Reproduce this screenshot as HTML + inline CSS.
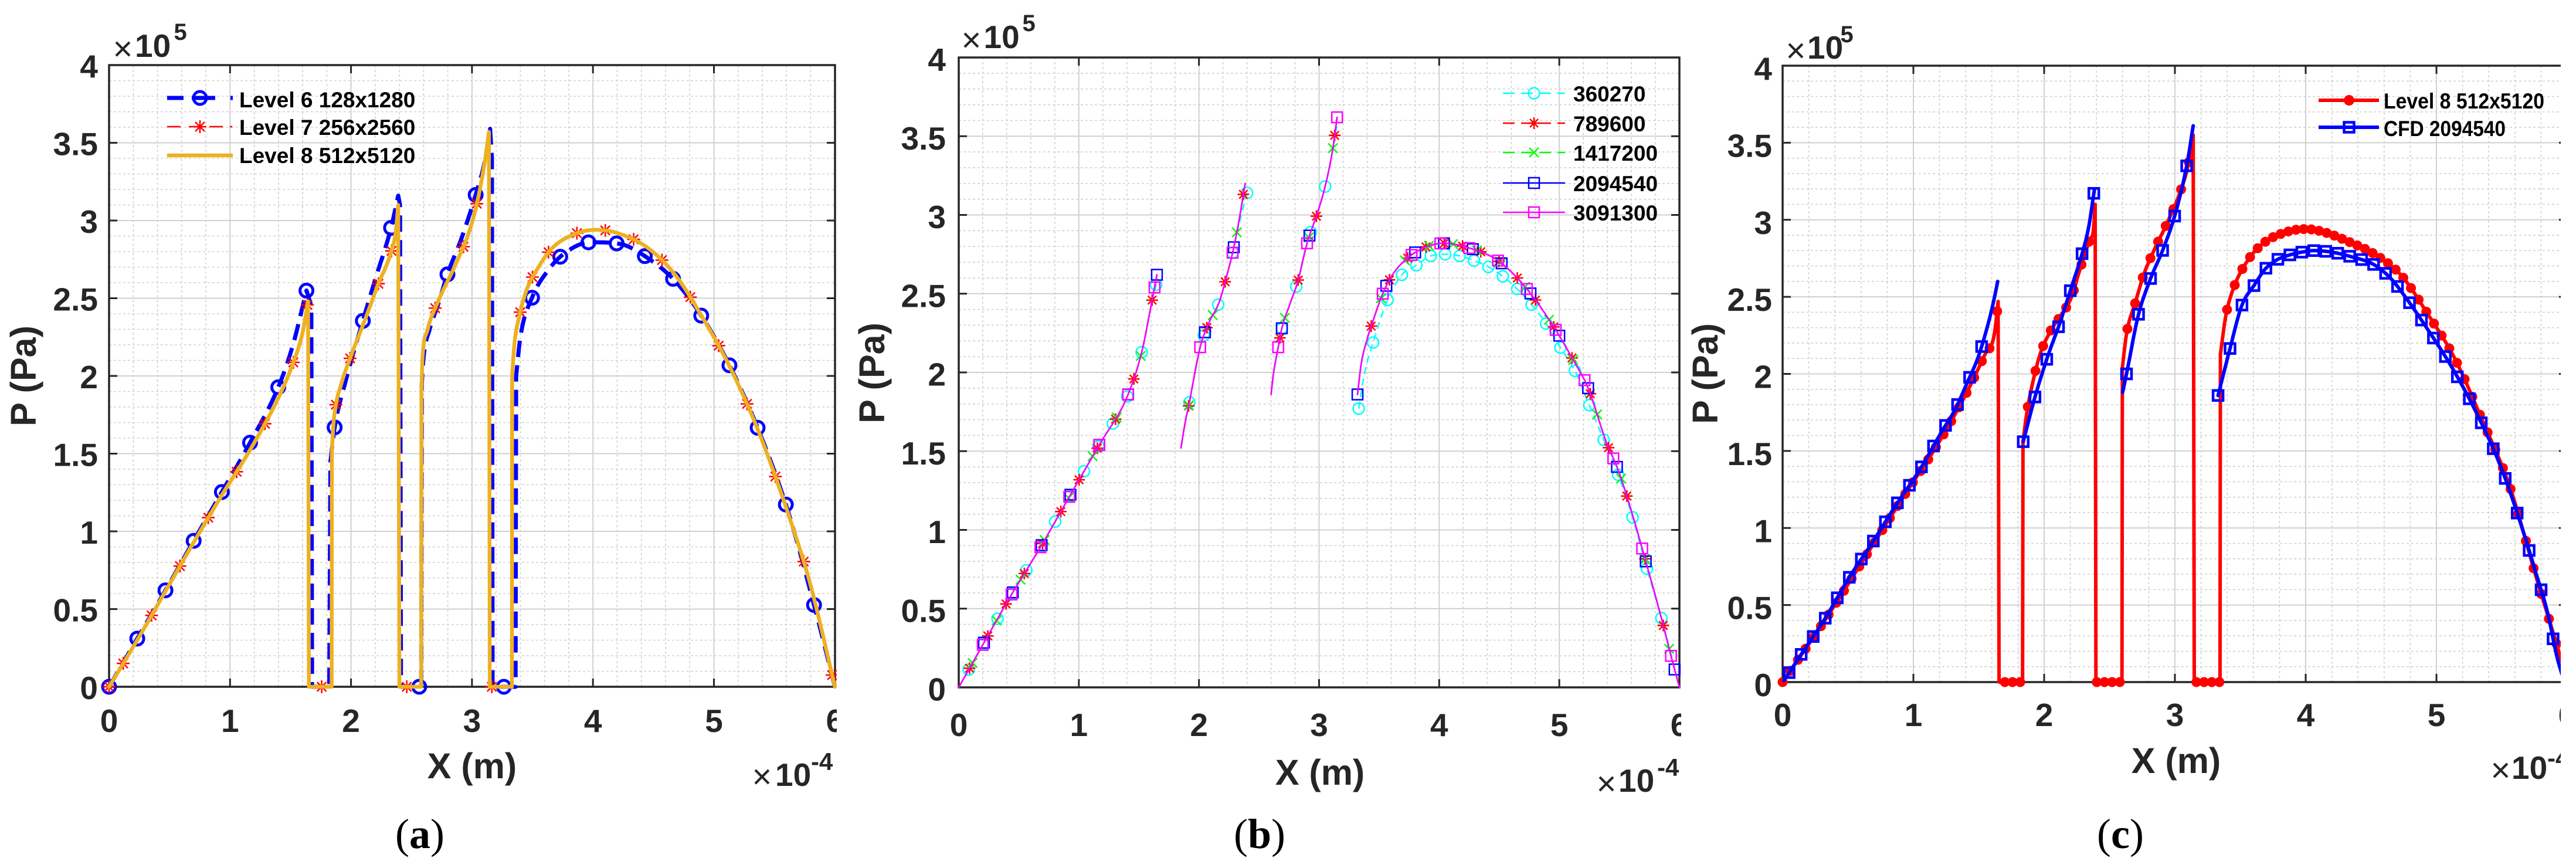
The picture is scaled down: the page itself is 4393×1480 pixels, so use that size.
<!DOCTYPE html>
<html><head><meta charset="utf-8"><title>Pressure distribution plots</title>
<style>
html,body{margin:0;padding:0;background:#fff;width:4393px;height:1480px;overflow:hidden;}
svg{display:block;}
.t{font-family:"Liberation Sans",Arial,Helvetica,sans-serif;font-weight:bold;fill:#262626;}
.tk{font-size:55px;}
.lab{font-size:61px;}
.leg{font-family:"Liberation Sans",Arial,Helvetica,sans-serif;font-weight:bold;font-size:37px;fill:#000;}
.cap{font-family:"Liberation Serif","Times New Roman",serif;font-size:72px;fill:#000;}
.mul{font-family:"Liberation Sans",Arial,Helvetica,sans-serif;font-weight:normal;font-size:58px;fill:#262626;}
.sup{font-size:40px;}
</style></head><body>
<svg id="fig" xmlns="http://www.w3.org/2000/svg" width="4393" height="1480" viewBox="0 0 4393 1480">
<rect width="4393" height="1480" fill="#fff"/>
<g id="ga"></g><g id="gb"></g><g id="gc"></g>

<!-- Legend (a) -->
<line x1="285" y1="167" x2="397" y2="167" stroke="#0000ff" stroke-width="7" stroke-dasharray="28 14 40 26 4"/>
<circle cx="341" cy="167" r="11" fill="none" stroke="#0000ff" stroke-width="5"/>
<line x1="285" y1="216" x2="397" y2="216" stroke="#ff0000" stroke-width="2.5" stroke-dasharray="23 14 23 12 23 12 4"/>
<path d="M330 216L352 216M341 205L341 227M333 208L349 224M333 224L349 208" stroke="#ff0000" stroke-width="2.5" fill="none"/>
<line x1="285" y1="265" x2="397" y2="265" stroke="#EDB120" stroke-width="6.5"/>
<text class="leg" x="408" y="183">Level 6 128x1280</text>
<text class="leg" x="408" y="230">Level 7 256x2560</text>
<text class="leg" x="408" y="278">Level 8 512x5120</text>

<!-- Legend (b) -->
<line x1="2563" y1="159" x2="2669" y2="159" stroke="#00ffff" stroke-width="2.5" stroke-dasharray="20 11"/>
<circle cx="2616" cy="159" r="9.5" fill="none" stroke="#00ffff" stroke-width="2.5"/>
<line x1="2563" y1="210" x2="2669" y2="210" stroke="#ff0000" stroke-width="2.5" stroke-dasharray="20 11"/>
<path d="M2606 210L2626 210M2616 200L2616 220M2609 203L2623 217M2609 217L2623 203" stroke="#ff0000" stroke-width="2.5" fill="none"/>
<line x1="2563" y1="260" x2="2669" y2="260" stroke="#00ff00" stroke-width="2.5" stroke-dasharray="20 11"/>
<path d="M2608 252L2624 268M2608 268L2624 252" stroke="#00ff00" stroke-width="2.5" fill="none"/>
<line x1="2563" y1="312" x2="2669" y2="312" stroke="#0000ff" stroke-width="2.5"/>
<rect x="2607" y="303" width="18" height="18" fill="none" stroke="#0000ff" stroke-width="2.5"/>
<line x1="2563" y1="362" x2="2669" y2="362" stroke="#ff00ff" stroke-width="2.5"/>
<rect x="2607" y="353" width="18" height="18" fill="none" stroke="#ff00ff" stroke-width="2.5"/>
<text class="leg" x="2683" y="173">360270</text>
<text class="leg" x="2683" y="224">789600</text>
<text class="leg" x="2683" y="274">1417200</text>
<text class="leg" x="2683" y="326">2094540</text>
<text class="leg" x="2683" y="376">3091300</text>

<!-- Legend (c) -->
<line x1="3954" y1="171" x2="4057" y2="171" stroke="#ff0000" stroke-width="6"/>
<circle cx="4006" cy="171" r="9" fill="#ff0000"/>
<line x1="3954" y1="217" x2="4057" y2="217" stroke="#0000ff" stroke-width="6"/>
<rect x="3997.5" y="208.5" width="17" height="17" fill="none" stroke="#0000ff" stroke-width="4.5"/>
<text class="leg" x="4065" y="185" font-size="35" textLength="274" lengthAdjust="spacingAndGlyphs">Level 8 512x5120</text>
<text class="leg" x="4065" y="232" font-size="35" textLength="208" lengthAdjust="spacingAndGlyphs">CFD 2094540</text>

<!-- Panel (a) tick labels -->
<g class="t tk" text-anchor="end">
<text x="167" y="1192">0</text><text x="167" y="1059.5">0.5</text><text x="167" y="927">1</text>
<text x="167" y="794.5">1.5</text><text x="167" y="662">2</text><text x="167" y="529.5">2.5</text>
<text x="167" y="397">3</text><text x="167" y="264.5">3.5</text><text x="167" y="132">4</text>
</g>
<g class="t tk" text-anchor="middle">
<text x="186" y="1248">0</text><text x="392.3" y="1248">1</text><text x="598.6" y="1248">2</text>
<text x="804.9" y="1248">3</text><text x="1011.2" y="1248">4</text><text x="1217.5" y="1248">5</text>
<text x="1423.8" y="1248">6</text>
</g>
<text class="mul" x="192.5" y="103">×</text>
<text class="t tk" x="230" y="97">10</text>
<text class="t sup" x="296.5" y="68">5</text>
<text class="mul" x="1282.5" y="1344">×</text>
<text class="t tk" x="1322" y="1340">10</text>
<text class="t" font-size="42" x="1383" y="1313">-4</text>
<text class="t lab" x="805" y="1327" text-anchor="middle">X (m)</text>
<text class="t lab" text-anchor="middle" transform="translate(61,641) rotate(-90)">P (Pa)</text>
<text class="cap" x="716" y="1446" text-anchor="middle">(<tspan font-weight="bold">a</tspan>)</text>

<!-- Panel (b) tick labels -->
<g class="t tk" text-anchor="end">
<text x="1613" y="1194.5">0</text><text x="1613" y="1060.25">0.5</text><text x="1613" y="926">1</text>
<text x="1613" y="791.75">1.5</text><text x="1613" y="657.5">2</text><text x="1613" y="523.25">2.5</text>
<text x="1613" y="389">3</text><text x="1613" y="254.75">3.5</text><text x="1613" y="120.5">4</text>
</g>
<g class="t tk" text-anchor="middle">
<text x="1635" y="1255">0</text><text x="1839.8" y="1255">1</text><text x="2044.7" y="1255">2</text>
<text x="2249.5" y="1255">3</text><text x="2454.3" y="1255">4</text><text x="2659.2" y="1255">5</text>
<text x="2864" y="1255">6</text>
</g>
<text class="mul" x="1639.5" y="88">×</text>
<text class="t tk" x="1677.5" y="82">10</text>
<text class="t sup" x="1743.5" y="53">5</text>
<text class="mul" x="2722.5" y="1356">×</text>
<text class="t tk" x="2760" y="1350">10</text>
<text class="t" font-size="42" x="2826" y="1323">-4</text>
<text class="t lab" x="2251" y="1338" text-anchor="middle">X (m)</text>
<text class="t lab" text-anchor="middle" transform="translate(1508,636) rotate(-90)">P (Pa)</text>
<text class="cap" x="2148" y="1446" text-anchor="middle">(<tspan font-weight="bold">b</tspan>)</text>

<!-- Panel (c) tick labels -->
<g class="t tk" text-anchor="end">
<text x="3022" y="1187">0</text><text x="3022" y="1055.6">0.5</text><text x="3022" y="924.25">1</text>
<text x="3022" y="792.9">1.5</text><text x="3022" y="661.5">2</text><text x="3022" y="530.1">2.5</text>
<text x="3022" y="398.75">3</text><text x="3022" y="267.4">3.5</text><text x="3022" y="136">4</text>
</g>
<g class="t tk" text-anchor="middle">
<text x="3040" y="1238">0</text><text x="3263" y="1238">1</text><text x="3486" y="1238">2</text>
<text x="3709" y="1238">3</text><text x="3932" y="1238">4</text><text x="4155" y="1238">5</text>
<text x="4378" y="1238">6</text>
</g>
<text class="mul" x="3045.5" y="106">×</text>
<text class="t tk" x="3082" y="100">10</text>
<text class="t sup" x="3138.5" y="72">5</text>
<text class="mul" x="4247.5" y="1333">×</text>
<text class="t tk" x="4283" y="1328">10</text>
<text class="t" font-size="42" x="4344" y="1307">-4</text>
<text class="t lab" x="3711" y="1318" text-anchor="middle">X (m)</text>
<text class="t lab" text-anchor="middle" transform="translate(2929,637) rotate(-90)">P (Pa)</text>
<text class="cap" x="3616" y="1446" text-anchor="middle">(<tspan font-weight="bold">c</tspan>)</text>

<!-- crop covers -->
<rect x="1427" y="0" width="35" height="1480" fill="#fff"/>
<rect x="2867" y="0" width="17" height="1480" fill="#fff"/>
<rect x="4367" y="0" width="26" height="1480" fill="#fff"/>
</svg>
<script>
(function(){
var NS="http://www.w3.org/2000/svg";
function E(p,t,a){var e=document.createElementNS(NS,t);for(var k in a)e.setAttribute(k,a[k]);p.appendChild(e);return e;}
function mono(pts){
 var n=pts.length,xs=pts.map(function(q){return q[0];}),ys=pts.map(function(q){return q[1];}),d=[],m=new Array(n),i;
 for(i=0;i<n-1;i++)d.push((ys[i+1]-ys[i])/(xs[i+1]-xs[i]));
 m[0]=d[0];m[n-1]=d[n-2];
 for(i=1;i<n-1;i++){m[i]=(d[i-1]*d[i]<=0)?0:(d[i-1]+d[i])/2;}
 for(i=0;i<n-1;i++){if(d[i]===0){m[i]=0;m[i+1]=0;continue;}var a=m[i]/d[i],b=m[i+1]/d[i],h=a*a+b*b;if(h>9){var t=3/Math.sqrt(h);m[i]=t*a*d[i];m[i+1]=t*b*d[i];}}
 return function(x){var j=0;while(j<n-2&&x>xs[j+1])j++;var h=xs[j+1]-xs[j],t=(x-xs[j])/h,t2=t*t,t3=t2*t;
  return (2*t3-3*t2+1)*ys[j]+(t3-2*t2+t)*h*m[j]+(-2*t3+3*t2)*ys[j+1]+(t3-t2)*h*m[j+1];};
}
function S(pieces){
 var pcs=pieces.map(function(q){return {t:q[0],p:q[1],f:q[0]==='s'?mono(q[1]):null};});
 return {
  pts:function(){var o=[];pcs.forEach(function(c){if(c.t==='s'){var x0=c.p[0][0],x1=c.p[c.p.length-1][0],n=Math.max(2,Math.ceil((x1-x0)/0.004));for(var i=0;i<=n;i++){var x=x0+(x1-x0)*i/n;o.push([x,c.f(x)]);}}else{c.p.forEach(function(q){o.push(q);});}});return o;},
  val:function(x){var i,c;for(i=0;i<pcs.length;i++){c=pcs[i];if(c.t==='s'&&x>=c.p[0][0]-1e-9&&x<=c.p[c.p.length-1][0]+1e-9)return c.f(x);}
   for(i=0;i<pcs.length;i++){c=pcs[i];if(c.t==='l'){for(var j=0;j<c.p.length-1;j++){var a=c.p[j],b=c.p[j+1];if(b[0]>a[0]&&x>=a[0]&&x<=b[0])return a[1]+(b[1]-a[1])*(x-a[0])/(b[0]-a[0]);}}}return null;}
 };
}
function XY(P,x,p){return [P.x0+x*P.sx,P.y0-p*P.sy];}
function path(g,P,ser,col,w,dash){
 var d=ser.pts().map(function(q,i){var c=XY(P,q[0],q[1]);return (i?'L':'M')+c[0].toFixed(1)+' '+c[1].toFixed(1);}).join('');
 var at={d:d,fill:'none',stroke:col,'stroke-width':w,'stroke-linejoin':'round','stroke-linecap':dash?'butt':'round'};
 if(dash)at['stroke-dasharray']=dash;E(g,'path',at);
}
function mk(g,P,type,x,p,col,sz,sw){
 var c=XY(P,x,p),a=c[0],b=c[1];
 if(type==='o')E(g,'circle',{cx:a,cy:b,r:sz,fill:'none',stroke:col,'stroke-width':sw});
 else if(type==='d')E(g,'circle',{cx:a,cy:b,r:sz,fill:col});
 else if(type==='s')E(g,'rect',{x:a-sz/2,y:b-sz/2,width:sz,height:sz,fill:'none',stroke:col,'stroke-width':sw});
 else if(type==='*'){var h=sz,k=sz*0.72;E(g,'path',{d:'M'+(a-h)+' '+b+'L'+(a+h)+' '+b+'M'+a+' '+(b-h)+'L'+a+' '+(b+h)+'M'+(a-k)+' '+(b-k)+'L'+(a+k)+' '+(b+k)+'M'+(a-k)+' '+(b+k)+'L'+(a+k)+' '+(b-k),stroke:col,'stroke-width':sw,fill:'none'});}
 else if(type==='x'){var k2=sz;E(g,'path',{d:'M'+(a-k2)+' '+(b-k2)+'L'+(a+k2)+' '+(b+k2)+'M'+(a-k2)+' '+(b+k2)+'L'+(a+k2)+' '+(b-k2),stroke:col,'stroke-width':sw,fill:'none'});}
}
function marks(g,P,sers,xs,type,col,sz,sw){xs.forEach(function(x){var v=null;for(var i=0;i<sers.length;i++){v=sers[i].val(x);if(v!==null)break;}if(v!==null)mk(g,P,type,x,v,col,sz,sw);});}
function rng(a,step,b){var o=[];for(var x=a;x<=b+1e-9;x+=step)o.push(+x.toFixed(4));return o;}
function frame(g,P){
 var R=P.right,k,j,x,y;
 for(k=1;k<30;k++){if(k%5===0)continue;x=P.x0+k*0.2*P.sx;E(g,'line',{x1:x,y1:P.top,x2:x,y2:P.y0,stroke:'#d2d2d2','stroke-width':1.6,'stroke-dasharray':'4 4'});}
 for(j=1;j<40;j++){if(j%5===0)continue;y=P.y0-j*0.1*P.sy;E(g,'line',{x1:P.x0,y1:y,x2:R,y2:y,stroke:'#d2d2d2','stroke-width':1.6,'stroke-dasharray':'4 4'});}
 for(k=1;k<6;k++){x=P.x0+k*P.sx;E(g,'line',{x1:x,y1:P.top,x2:x,y2:P.y0,stroke:'#d0d0d0','stroke-width':2});}
 for(j=1;j<8;j++){y=P.y0-j*0.5*P.sy;E(g,'line',{x1:P.x0,y1:y,x2:R,y2:y,stroke:'#d0d0d0','stroke-width':2});}
 E(g,'rect',{x:P.x0,y:P.top,width:R-P.x0,height:P.y0-P.top,fill:'none',stroke:'#262626','stroke-width':3.5});
 for(k=1;k<6;k++){x=P.x0+k*P.sx;E(g,'line',{x1:x,y1:P.y0,x2:x,y2:P.y0-14,stroke:'#262626','stroke-width':3});E(g,'line',{x1:x,y1:P.top,x2:x,y2:P.top+14,stroke:'#262626','stroke-width':3});}
 for(j=1;j<8;j++){y=P.y0-j*0.5*P.sy;E(g,'line',{x1:P.x0,y1:y,x2:P.x0+14,y2:y,stroke:'#262626','stroke-width':3});E(g,'line',{x1:R,y1:y,x2:R-14,y2:y,stroke:'#262626','stroke-width':3});}
}

/* ---------- Panel (a) ---------- */
var A={x0:186,sx:206.3,y0:1171,sy:265,top:111,right:1424};
var L8=S([
 ['s',[[0,0],[0.24,0.31],[0.47,0.62],[0.70,0.93],[0.93,1.23],[1.17,1.53],[1.40,1.86],[1.52,2.08],[1.60,2.28],[1.645,2.48]]],
 ['l',[[1.645,2.48],[1.652,0],[1.84,0],[1.842,1.5]]],
 ['s',[[1.842,1.5],[1.85,1.64],[1.87,1.79],[1.92,1.95],[2.01,2.15],[2.11,2.35],[2.23,2.60],[2.32,2.77],[2.37,2.93],[2.39,3.10]]],
 ['l',[[2.39,3.10],[2.40,0],[2.58,0],[2.582,1.9]]],
 ['s',[[2.582,1.9],[2.59,2.1],[2.63,2.29],[2.72,2.48],[2.86,2.71],[2.99,2.96],[3.06,3.18],[3.11,3.40],[3.14,3.57]]],
 ['l',[[3.14,3.57],[3.147,0],[3.33,0],[3.332,2.0]]],
 ['s',[[3.332,2.0],[3.35,2.2],[3.39,2.38],[3.45,2.55],[3.55,2.70],[3.66,2.82],[3.84,2.91],[4.02,2.94],[4.2,2.92],[4.46,2.82],[4.69,2.64],[4.91,2.37],[5.13,2.06],[5.36,1.66],[5.62,1.10],[5.80,0.65],[6.0,0]]]
]);
var L6=S([
 ['s',[[0,0],[0.233,0.31],[0.466,0.62],[0.70,0.94],[0.93,1.25],[1.165,1.57],[1.40,1.93],[1.52,2.2],[1.632,2.55]]],
 ['l',[[1.632,2.55],[1.672,2.45],[1.678,0],[1.82,0],[1.83,1.45]]],
 ['s',[[1.83,1.45],[1.865,1.67],[1.95,1.95],[2.10,2.36],[2.20,2.62],[2.33,2.95],[2.39,3.16]]],
 ['l',[[2.39,3.16],[2.405,3.1],[2.413,0],[2.58,0],[2.585,1.95]]],
 ['s',[[2.585,1.95],[2.60,2.12],[2.65,2.30],[2.72,2.46],[2.80,2.66],[2.92,2.90],[3.04,3.19],[3.10,3.36],[3.15,3.59]]],
 ['l',[[3.15,3.59],[3.165,3.4],[3.17,0],[3.36,0],[3.365,2.0]]],
 ['s',[[3.365,2.0],[3.40,2.25],[3.50,2.51],[3.62,2.67],[3.75,2.78],[3.98,2.86],[4.22,2.85],[4.45,2.76],[4.68,2.61],[4.91,2.37],[5.14,2.05],[5.38,1.63],[5.62,1.11],[5.85,0.46],[6.0,0]]]
]);
var ga=document.getElementById('ga');
frame(ga,A);
path(ga,A,L6,'#0000ff',7,'28 14');
marks(ga,A,[L6],rng(0,0.2331,5.84),'o','#0000ff',11,5);
path(ga,A,L8,'#ff0000',2.5,'14 8');
marks(ga,A,[L8],rng(0.117,0.2344,6).concat([0,1.64,1.875,2.335,3.04,3.5]),'*','#ff0000',11,2.5);
path(ga,A,L8,'#EDB120',6.5,null);

/* ---------- Panel (b) ---------- */
var B={x0:1635,sx:204.83,y0:1172,sy:268.5,top:98,right:2864};
var b1=[[0,0],[0.2,0.27],[0.44,0.59],[0.68,0.89],[0.92,1.21],[1.17,1.54],[1.41,1.86],[1.53,2.15],[1.59,2.38],[1.65,2.62]];
var b2=[[1.85,1.52],[1.88,1.66],[1.92,1.81],[2.01,2.16],[2.08,2.31],[2.17,2.45],[2.23,2.61],[2.28,2.76],[2.33,2.95],[2.385,3.20]];
var b3=[[2.60,1.86],[2.62,1.99],[2.66,2.16],[2.69,2.28],[2.76,2.44],[2.82,2.57],[2.90,2.82],[2.99,3.02],[3.05,3.18],[3.11,3.40],[3.15,3.62]];
var b4=[[3.32,1.86],[3.35,2.05],[3.40,2.21],[3.45,2.33],[3.53,2.50],[3.62,2.63],[3.76,2.74],[3.90,2.80],[4.04,2.82],[4.25,2.79],[4.49,2.71],[4.73,2.53],[4.97,2.27],[5.1,2.1],[5.24,1.9],[5.39,1.56],[5.49,1.38],[5.6,1.12],[5.72,0.80],[5.85,0.44],[5.93,0.2],[6.0,0]];
var BASE=[b1,b2,b3,b4].map(function(p){return S([['s',p]]);});
var c1=b1.slice(0,-1).concat([[1.65,2.58]]);
var c2=b2.slice(0,-2).concat([[2.33,2.93],[2.40,3.14]]);
var c3=b3.slice(0,-1).concat([[3.15,3.58]]);
var c4=[[3.33,1.77],[3.38,2.0],[3.45,2.19],[3.57,2.46],[3.69,2.62],[3.81,2.68],[3.93,2.74],[4.05,2.75],[4.17,2.74],[4.29,2.71],[4.41,2.67],[4.53,2.61],[4.65,2.53],[4.77,2.43],[4.89,2.31],[5.0,2.17],[5.13,2.01],[5.24,1.81],[5.36,1.59],[5.49,1.35],[5.61,1.08],[5.72,0.78],[5.85,0.44],[5.95,0.15],[6.0,0]];
var CY=[c1,c2,c3,c4].map(function(p){return S([['s',p]]);});
var gb=document.getElementById('gb');
frame(gb,B);
CY.forEach(function(s){path(gb,B,s,'#00ffff',2.5,'12 8');});
marks(gb,B,CY,rng(0.083,0.12,1.65).concat(rng(1.92,0.12,2.40),rng(2.69,0.12,3.06),rng(3.33,0.12,5.86)),'o','#00ffff',9.5,2.5);
BASE.forEach(function(s){path(gb,B,s,'#ff0000',2.5,'12 8');});
marks(gb,B,BASE,rng(0.09,0.152,6),'*','#ff0000',10,2.5);
BASE.forEach(function(s){path(gb,B,s,'#00ff00',2.5,'12 8');});
marks(gb,B,BASE,rng(0.115,0.2,6),'x','#00ff00',8,2.5);
BASE.forEach(function(s){path(gb,B,s,'#0000ff',2.5,null);});
marks(gb,B,BASE,[0.21,0.45,0.69,0.93,1.17,1.41,1.65,2.05,2.29,2.69,2.92].concat(rng(3.32,0.24,5.97)),'s','#0000ff',18,2.5);
BASE.forEach(function(s){path(gb,B,s,'#ff00ff',2.5,null);});
marks(gb,B,BASE,[0.2,0.44,0.68,0.92,1.17,1.41,1.63,2.01,2.28,2.66,2.90,3.15].concat(rng(3.53,0.24,5.95)),'s','#ff00ff',18,2.5);

/* ---------- Panel (c) ---------- */
var C={x0:3040,sx:223,y0:1163,sy:262.75,top:112,right:4378};
var R8=S([
 ['s',[[0,0],[0.33,0.41],[0.69,0.89],[0.96,1.25],[1.14,1.48],[1.32,1.74],[1.45,1.95],[1.55,2.13],[1.615,2.24],[1.64,2.40],[1.648,2.47]]],
 ['l',[[1.648,2.47],[1.655,0],[1.835,0],[1.838,1.56]]],
 ['s',[[1.838,1.56],[1.87,1.76],[1.92,1.97],[1.97,2.13],[2.05,2.28],[2.12,2.37],[2.21,2.50],[2.26,2.64],[2.32,2.80],[2.355,2.88],[2.375,2.92],[2.39,3.10]]],
 ['l',[[2.39,3.10],[2.396,0],[2.595,0],[2.598,2.04]]],
 ['s',[[2.598,2.04],[2.63,2.26],[2.70,2.47],[2.76,2.64],[2.85,2.82],[2.93,2.96],[3.04,3.18],[3.10,3.35],[3.14,3.55]]],
 ['l',[[3.14,3.55],[3.148,0],[3.345,0],[3.348,2.13]]],
 ['s',[[3.348,2.13],[3.39,2.38],[3.45,2.56],[3.56,2.74],[3.68,2.85],[3.85,2.92],[4.0,2.94],[4.14,2.92],[4.35,2.85],[4.52,2.78],[4.73,2.64],[4.94,2.38],[5.14,2.10],[5.35,1.70],[5.56,1.27],[5.77,0.66],[5.9,0.3],[6.0,0.02]]]
]);
var CB=[
 [[0.01,0.01],[0.15,0.19],[0.33,0.42],[0.51,0.68],[0.69,0.91],[0.86,1.14],[1.05,1.38],[1.22,1.63],[1.32,1.77],[1.41,1.94],[1.50,2.12],[1.60,2.42],[1.645,2.60]],
 [[1.84,1.56],[1.93,1.85],[2.03,2.12],[2.12,2.33],[2.2,2.54],[2.29,2.78],[2.34,2.95],[2.385,3.2]],
 [[2.60,1.88],[2.63,2.0],[2.72,2.38],[2.81,2.61],[2.91,2.81],[3.0,3.03],[3.09,3.35],[3.14,3.61]],
 [[3.33,1.86],[3.42,2.16],[3.51,2.44],[3.61,2.58],[3.69,2.68],[3.78,2.74],[3.87,2.77],[3.97,2.79],[4.06,2.80],[4.2,2.79],[4.35,2.76],[4.52,2.71],[4.65,2.62],[4.77,2.49],[4.94,2.28],[5.12,2.04],[5.31,1.74],[5.5,1.38],[5.67,0.96],[5.76,0.71],[5.85,0.45],[5.92,0.17],[5.96,0.05]]
].map(function(p){return S([['s',p]]);});
var gc=document.getElementById('gc');
frame(gc,C);
path(gc,C,R8,'#ff0000',6,null);
marks(gc,C,[R8],rng(0,0.0586,6),'d','#ff0000',8.5,0);
CB.forEach(function(s){path(gc,C,s,'#0000ff',6,null);});
marks(gc,C,CB,rng(0.05,0.092,1.61).concat(rng(1.84,0.09,2.385),rng(2.63,0.092,3.1),rng(3.33,0.0915,5.93)),'s','#0000ff',17,4.5);
})();
</script>
</body></html>
